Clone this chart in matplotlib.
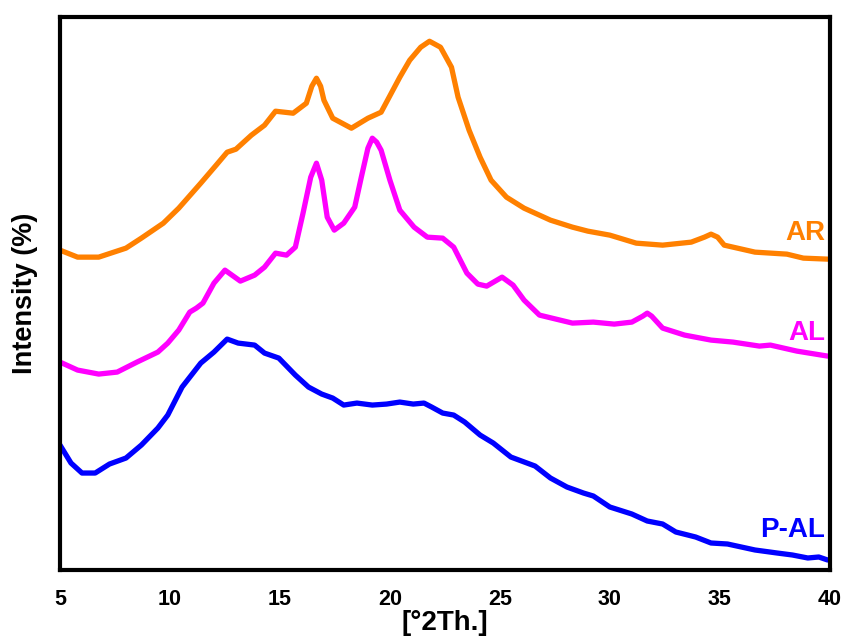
import matplotlib
matplotlib.use("Agg")
import matplotlib.pyplot as plt
import numpy as np

# diffraction angle [°2Th.] and intensity (arbitrary units)
ar_x = [5.0, 5.8, 6.76, 8.0, 8.7, 9.7, 10.4, 11.4, 12.1, 12.6, 13.0, 13.7, 14.3,
        14.8, 15.6, 16.2, 16.45, 16.66, 16.85, 17.0, 17.4, 18.25, 19.0, 19.6,
        20.45, 20.9, 21.4, 21.8, 22.3, 22.8, 23.1, 23.6, 24.1, 24.6, 25.3,
        26.1, 27.3, 28.3, 29.0, 30.0, 31.2, 32.4, 33.7, 34.3, 34.6, 34.9,
        35.2, 36.6, 38.05, 38.8, 39.9]
ar_y = [320, 313, 313, 322, 332, 347, 362, 387, 405, 418, 421, 435, 445,
        459, 457, 467, 484, 492, 484, 470, 452, 442, 452, 458,
        493, 510, 523, 529, 523, 503, 473, 440, 413, 390, 373,
        362, 350, 343, 339, 335, 327, 325, 328, 333, 336, 333,
        325, 318, 316, 312, 311]

al_x = [5.0, 5.8, 6.76, 7.6, 8.5, 9.45, 9.9, 10.4, 10.9, 11.2, 11.5, 12.0, 12.5,
        13.2, 13.85, 14.3, 14.8, 15.3, 15.7, 16.05, 16.4, 16.66, 16.9, 17.15,
        17.47, 17.9, 18.4, 18.7, 19.0, 19.2, 19.4, 19.6, 20.0, 20.45, 21.1,
        21.7, 22.4, 22.9, 23.5, 24.0, 24.4, 25.1, 25.6, 26.1, 26.8, 27.55,
        28.3, 29.25, 30.2, 31.0, 31.5, 31.7, 31.9, 32.4, 33.4, 34.6, 35.6,
        36.8, 37.3, 38.5, 39.9]
al_y = [208, 200, 196, 198, 208, 218, 227, 240, 258, 262, 267, 287, 300,
        289, 295, 303, 317, 315, 323, 357, 393, 407, 390, 353,
        340, 347, 363, 393, 422, 432, 428, 420, 390, 360, 343,
        333, 332, 323, 297, 286, 284, 293, 285, 270, 255, 251,
        247, 248, 246, 248, 254, 257, 254, 242, 235, 230, 228,
        224, 225, 219, 214]

pal_x = [5.0, 5.5, 6.0, 6.6, 7.25, 8.0, 8.7, 9.45, 9.9, 10.55, 11.4, 12.0, 12.6,
         13.1, 13.85, 14.3, 14.95, 15.7, 16.3, 16.9, 17.4, 17.9, 18.5, 19.2,
         19.85, 20.45, 21.06, 21.55, 21.9, 22.4, 22.9, 23.4, 24.1, 24.7, 25.5,
         26.6, 27.3, 28.05, 28.8, 29.25, 30.0, 31.0, 31.7, 32.4, 33.0, 33.9,
         34.6, 35.35, 36.6, 37.6, 38.3, 39.0, 39.5, 39.9]
pal_y = [125, 107, 97, 97, 106, 112, 125, 142, 155, 183, 207, 218, 231,
         227, 225, 217, 212, 195, 183, 176, 172, 165, 167, 165,
         166, 168, 166, 167, 163, 157, 155, 148, 135, 127, 113,
         104, 92, 83, 77, 74, 63, 56, 49, 46, 38, 33,
         27, 26, 20, 17, 15, 12, 13, 10]

series = [
    ("AR", ar_x, ar_y, "#FF8000", 330),
    ("AL", al_x, al_y, "#FF00FF", 230),
    ("P-AL", pal_x, pal_y, "#0000FF", 33),
]

font = ["Liberation Sans", "DejaVu Sans"]

fig = plt.figure(figsize=(8.45, 6.39), dpi=100)
ax = fig.add_axes([0.071, 0.108, 0.911, 0.865])

for name, xs, ys, col, ly in series:
    ax.plot(xs, ys, color=col, lw=3.8, solid_joinstyle="round",
            solid_capstyle="round")
    ax.text(39.8, ly, name, color=col, fontsize=20, fontweight="bold",
            family=font, ha="right", va="baseline")

ax.set_xlim(5, 40)
ax.set_ylim(0, 553)
ax.set_xticks([5, 10, 15, 20, 25, 30, 35, 40])
ax.set_yticks([])
ax.tick_params(axis="x", length=0, pad=14)
for lab in ax.get_xticklabels():
    lab.set_fontweight("bold")
    lab.set_fontsize(15.5)
    lab.set_family(font)
for sp in ax.spines.values():
    sp.set_linewidth(3)

ax.set_xlabel("[°2Th.]", fontsize=20, fontweight="bold", family=font, labelpad=0)
ax.set_ylabel("Intensity (%)", fontsize=19.5, fontweight="bold", family=font,
              labelpad=16)

fig.savefig("out.png", dpi=100)
